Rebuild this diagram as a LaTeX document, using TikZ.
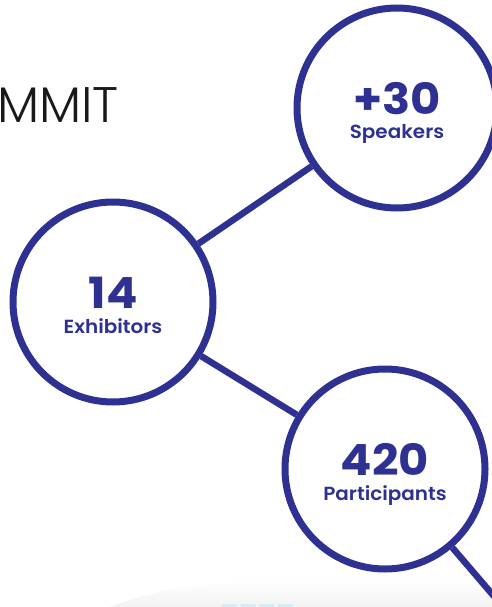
\documentclass[tikz,border=0pt]{standalone}
\usepackage{fontspec}
\setmainfont{Poppins}
\IfFontExistsTF{Poppins Light}{\newfontfamily\titlefont{Poppins Light}}{\newfontfamily\titlefont{Poppins}}
\IfFontExistsTF{Poppins SemiBold}{\newfontfamily\labelfont{Poppins SemiBold}[FakeStretch=1.05]}{\newfontfamily\labelfont{Poppins}[UprightFont=*-Bold,FakeStretch=1.05]}
\newfontfamily\numfont{Poppins}[FakeStretch=1.08]
\usetikzlibrary{shadings}

\definecolor{summitblue}{RGB}{46,49,146}
\definecolor{paleblue}{RGB}{214,235,244}

\tikzset{
    stat/.style={circle, draw=summitblue, line width=7pt, minimum size=200pt, inner sep=0pt},
    link/.style={draw=summitblue, line width=6.5pt},
    statnum/.style={text=summitblue, font=\numfont\fontsize{43}{43}\selectfont\bfseries, anchor=base, inner sep=0pt},
    statlabel/.style={text=summitblue, font=\labelfont\fontsize{19}{19}\selectfont, anchor=base, inner sep=0pt},
    titletext/.style={text=black!90, font=\titlefont\fontsize{50}{50}\selectfont, anchor=base west, inner sep=0pt},
}

\begin{document}
\begin{tikzpicture}[x=1pt,y=-1pt]
    \useasboundingbox (0,0) rectangle (492,607);
    % soft shadow along the bottom edge
    \shade [top color=white, bottom color=black!5] (110,607) .. controls (170,584) and (230,580) .. (310,580) -- (492,580) -- (492,607) -- cycle;
    \foreach \x in {222,240.5,259,277.5}{
        \fill [paleblue] (\x,604) rectangle ++(15,3);
    }
    \node [titletext] (title) at (-3,122) {MMIT};
    \foreach \name/\x/\y/\num/\what in {exh/113/302/14/Exhibitors, spk/397/108/+30/Speakers, par/385/469/420/Participants}{
        \node [stat] (\name) at (\x,\y) {};
        \node [statnum] (\name-num) at ([yshift=-6pt]\name.center) {\num};
        \node [statlabel] (\name-lbl) at ([yshift=-31pt]\name.center) {\what};
    }
    \coordinate (tail) at (552,664);
    \draw [link] (exh) -- (spk);
    \draw [link] (exh) -- (par);
    \draw [link] (par) -- (tail);
\end{tikzpicture}
\end{document}
